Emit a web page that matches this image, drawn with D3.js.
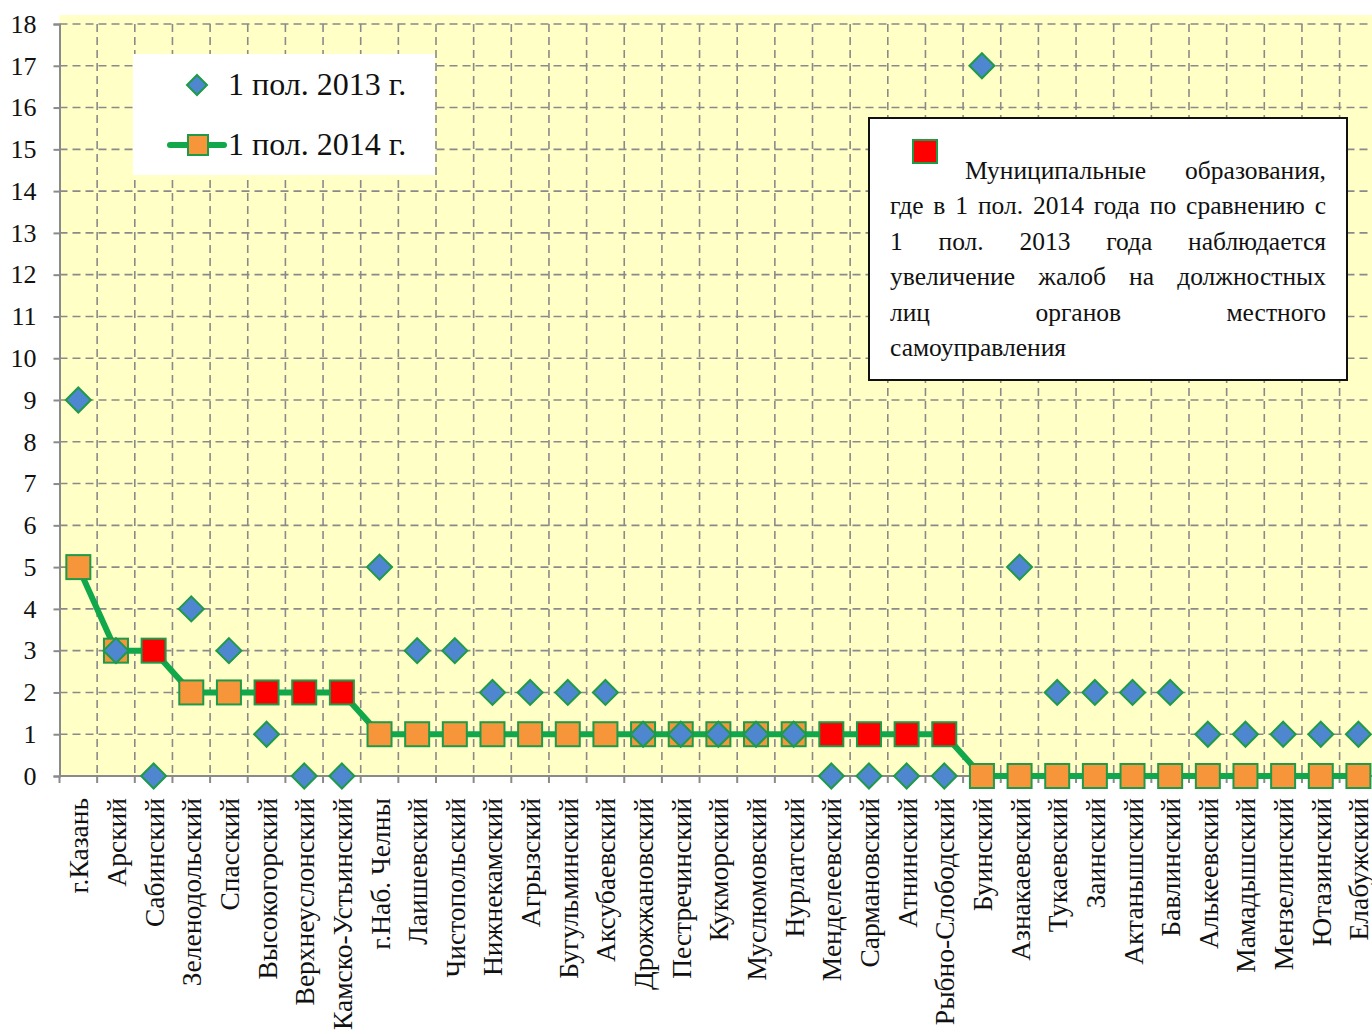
<!DOCTYPE html>
<html>
<head>
<meta charset="utf-8">
<script src="https://cdn.jsdelivr.net/npm/d3@7"></script>
<style>
  body { margin: 0; background: #fff; }
  svg { display: block; }
  svg text { font-family: "Liberation Serif", "Times New Roman", "DejaVu Serif", serif !important; }
</style>
</head>
<body>
<script>
// районы
const districts = ["г.Казань", "Арский", "Сабинский", "Зеленодольский", "Спасский", "Высокогорский",
  "Верхнеуслонский", "Камско-Устьинский", "г.Наб. Челны", "Лаишевский", "Чистопольский", "Нижнекамский",
  "Агрызский", "Бугульминский", "Аксубаевский", "Дрожжановский", "Пестречинский", "Кукморский",
  "Муслюмовский", "Нурлатский", "Менделеевский", "Сармановский", "Атнинский", "Рыбно-Слободский",
  "Буинский", "Азнакаевский", "Тукаевский", "Заинский", "Актанышский", "Бавлинский", "Алькеевский",
  "Мамадышский", "Мензелинский", "Ютазинский", "Елабужский"];

const values2013 = [9, 3, 0, 4, 3, 1, 0, 0, 5, 3, 3, 2, 2, 2, 2, 1, 1, 1, 1, 1, 0, 0, 0, 0,
  17, 5, 2, 2, 2, 2, 1, 1, 1, 1, 1];
const values2014 = [5, 3, 3, 2, 2, 2, 2, 2, 1, 1, 1, 1, 1, 1, 1, 1, 1, 1, 1, 1, 1, 1, 1, 1,
  0, 0, 0, 0, 0, 0, 0, 0, 0, 0, 0];

const yTicks = d3.range(0, 19);
const seriesNames = ["1 пол. 2013 г.", "1 пол. 2014 г."];
const noteText = "Муниципальные образования, где в 1 пол. 2014 года по сравнению с 1 пол. 2013 года наблюдается увеличение жалоб на должностных лиц органов местного самоуправления";

const W = 1372, H = 1034;
const left = 59.5, bandW = 37.65;

const svg = d3.select("body").append("svg")
  .attr("width", W)
  .attr("height", H);

let x = d3.scaleBand()
  .domain(districts)
  .range([left, left + bandW * districts.length])
  .padding(0);

let y = d3.scaleLinear()
  .domain([0, 18])
  .range([776, 24]);

const cx = (d) => x(d) + x.bandwidth() / 2;

// plot area
svg.append("rect")
  .attr("x", left).attr("y", 15)
  .attr("width", W - left).attr("height", y(0) - 15)
  .attr("fill", "#ffffc6");

// horizontal grid
svg.append("g")
  .selectAll("line")
  .data(yTicks.filter(d => d > 0))
  .join("line")
  .attr("x1", left).attr("x2", W)
  .attr("y1", d => y(d)).attr("y2", d => y(d))
  .attr("stroke", "#8a8a8a")
  .attr("stroke-width", 1.6)
  .attr("stroke-dasharray", "8,5");

// vertical grid at band boundaries
svg.append("g")
  .selectAll("line")
  .data(districts.slice(1))
  .join("line")
  .attr("x1", d => x(d)).attr("x2", d => x(d))
  .attr("y1", y(18)).attr("y2", y(0))
  .attr("stroke", "#8a8a8a")
  .attr("stroke-width", 1.6)
  .attr("stroke-dasharray", "8,5");

// y axis
const yAxis = svg.append("g")
  .attr("transform", `translate(${left},0)`)
  .call(d3.axisLeft(y).tickValues(yTicks).tickSize(6).tickPadding(17).tickFormat(d3.format("d")));
yAxis.select(".domain").attr("stroke", "#8a8a8a").attr("stroke-width", 2);
yAxis.selectAll(".tick line").attr("stroke", "#8a8a8a").attr("stroke-width", 2);
yAxis.selectAll("text")
  .attr("font-size", 26)
  .attr("fill", "#111");

// x axis
const xAxis = svg.append("g")
  .attr("transform", `translate(0,${y(0)})`);
xAxis.append("line")
  .attr("x1", left).attr("x2", W)
  .attr("stroke", "#8a8a8a").attr("stroke-width", 2);
xAxis.selectAll(".xt")
  .data(districts)
  .join("line")
  .attr("class", "xt")
  .attr("x1", d => x(d)).attr("x2", d => x(d))
  .attr("y1", 0).attr("y2", 7)
  .attr("stroke", "#8a8a8a").attr("stroke-width", 2);
xAxis.selectAll(".xl")
  .data(districts)
  .join("text")
  .attr("class", "xl")
  .attr("transform", d => `translate(${cx(d) + 10},${22}) rotate(-90)`)
  .attr("text-anchor", "end")
  .attr("font-size", 27.5)
  .attr("fill", "#111")
  .text(d => d);

// 2014 line
const line = d3.line()
  .x((d, i) => cx(districts[i]))
  .y(d => y(d));

svg.append("path")
  .datum(values2014)
  .attr("d", line)
  .attr("fill", "none")
  .attr("stroke", "#10a84a")
  .attr("stroke-width", 6);

// 2014 squares, red where growth
const sq = 24;
svg.append("g")
  .selectAll("rect")
  .data(values2014)
  .join("rect")
  .attr("x", (d, i) => cx(districts[i]) - sq / 2)
  .attr("y", d => y(d) - sq / 2)
  .attr("width", sq).attr("height", sq)
  .attr("fill", (d, i) => d > values2013[i] ? "#ff0000" : "#f7953a")
  .attr("stroke", "#1e9a48")
  .attr("stroke-width", 2);

// 2013 diamonds
const dm = 12.5;
const diamond = (px, py, r) => `M${px},${py - r}L${px + r},${py}L${px},${py + r}L${px - r},${py}Z`;
svg.append("g")
  .selectAll("path")
  .data(values2013)
  .join("path")
  .attr("d", (d, i) => diamond(cx(districts[i]), y(d), dm))
  .attr("fill", "#4f86d0")
  .attr("stroke", "#1e9a48")
  .attr("stroke-width", 2);

// legend
const lg = svg.append("g");
lg.append("rect")
  .attr("x", 133).attr("y", 54)
  .attr("width", 302).attr("height", 121)
  .attr("fill", "#fff");
lg.append("path")
  .attr("d", diamond(197, 85, 10))
  .attr("fill", "#4f86d0").attr("stroke", "#1e9a48").attr("stroke-width", 2);
lg.append("line")
  .attr("x1", 170).attr("x2", 224).attr("y1", 145).attr("y2", 145)
  .attr("stroke", "#10a84a").attr("stroke-width", 6).attr("stroke-linecap", "round");
lg.append("rect")
  .attr("x", 188).attr("y", 135).attr("width", 20).attr("height", 20)
  .attr("fill", "#f7953a").attr("stroke", "#1e9a48").attr("stroke-width", 2);
lg.selectAll("text")
  .data(seriesNames)
  .join("text")
  .attr("x", 228)
  .attr("y", (d, i) => 95 + i * 60)
  .attr("font-size", 32)
  .attr("fill", "#111")
  .text(d => d);

// note box
const note = svg.append("g");
note.append("rect")
  .attr("x", 869).attr("y", 118)
  .attr("width", 478).attr("height", 262)
  .attr("fill", "#fff")
  .attr("stroke", "#111").attr("stroke-width", 2);
note.append("rect")
  .attr("x", 913).attr("y", 140)
  .attr("width", 24).attr("height", 23)
  .attr("fill", "#ff0000").attr("stroke", "#1e9a48").attr("stroke-width", 2);

// justified text, lines broken by hand like in the source
const noteWords = noteText.split(" ");
const noteBreaks = [2, 11, 16, 20, 23, 24];
const lineH = 35.4, textL = 890, textR = 1326;
let start = 0;
noteBreaks.forEach((end, li) => {
  const words = noteWords.slice(start, end);
  start = end;
  const lx = li === 0 ? 965 : textL;
  const by = 179 + li * lineH;
  const nodes = words.map(w => note.append("text")
    .attr("y", by)
    .attr("font-size", 25.5)
    .attr("fill", "#111")
    .text(w));
  const widths = nodes.map(n => n.node().getComputedTextLength());
  const total = d3.sum(widths);
  const last = li === noteBreaks.length - 1;
  const gap = (last || words.length < 2) ? 6 : (textR - lx - total) / (words.length - 1);
  let px = lx;
  nodes.forEach((n, k) => {
    n.attr("x", px);
    px += widths[k] + gap;
  });
});
</script>
</body>
</html>
